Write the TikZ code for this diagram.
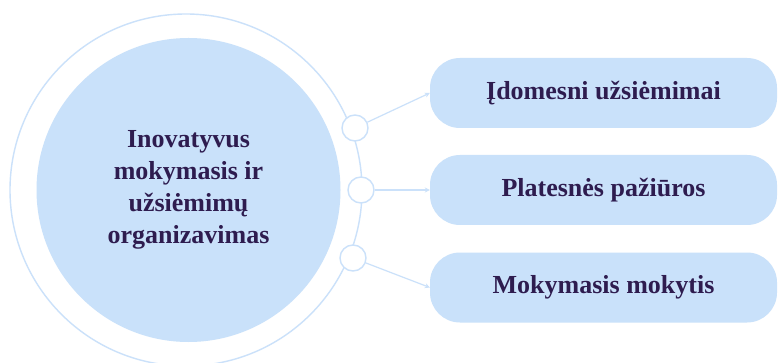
\documentclass[tikz,border=0pt]{standalone}
\usepackage{fontspec}
\setmainfont{Liberation Serif}
\usetikzlibrary{arrows.meta}
\definecolor{fillblue}{HTML}{C9E1FA}
\definecolor{lineblue}{HTML}{CBE1FA}
\definecolor{txt}{HTML}{2E1C4F}
\tikzset{
  ring/.style={draw=lineblue, line width=1.4pt},
  dot/.style={circle, draw=lineblue, line width=1.4pt, fill=white, minimum size=26pt, inner sep=0pt},
  box/.style={rectangle, rounded corners=30pt, fill=fillblue, minimum width=347pt, minimum height=70pt,
    font=\fontsize{26}{32}\selectfont\bfseries, text=txt},
  conn/.style={draw=lineblue, line width=1.2pt, -{Stealth[length=5pt,width=5pt]}}
}
\begin{document}
\begin{tikzpicture}[x=1pt,y=-1pt]
\useasboundingbox (0,0) rectangle (778,363);
\fill[white] (0,0) rectangle (778,363);
\node[circle, ring, minimum size=352pt, inner sep=0pt] (outer) at (186,190) {};
\node[circle, fill=fillblue, minimum size=304pt, inner sep=0pt, align=center,
  font=\fontsize{26}{32}\selectfont\bfseries, text=txt] (center) at (188.5,190)
  {Inovatyvus\\mokymasis ir\\užsiėmimų\\organizavimas};
\node[dot] (c1) at (355,128) {};
\node[dot] (c2) at (361,190) {};
\node[dot] (c3) at (353,258) {};
\node[box] (b1) at (603.5,93) {Įdomesni užsiėmimai};
\node[box] (b2) at (603.5,190) {Platesnės pažiūros};
\node[box] (b3) at (603.5,287.5) {Mokymasis mokytis};
\draw[conn] (c1) -- (b1.west);
\draw[conn] (c2) -- (b2.west);
\draw[conn] (c3) -- (b3.west);
\end{tikzpicture}
\end{document}
